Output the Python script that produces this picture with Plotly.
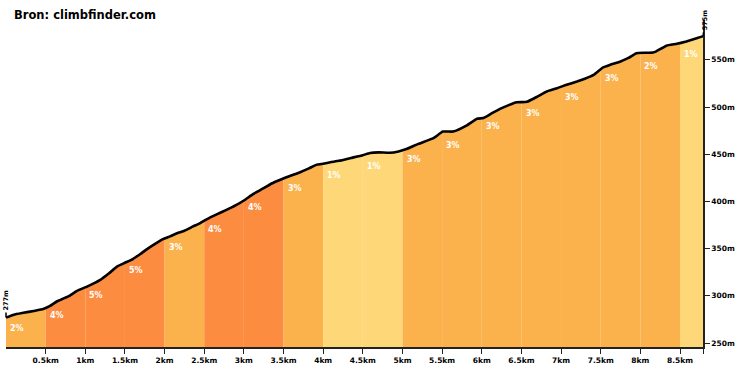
import numpy as np
import plotly.graph_objects as go

# Elevation profile (km, m)
dist_km = [0.00, 0.10, 0.22, 0.35, 0.47, 0.55, 0.64, 0.72, 0.80, 0.89, 1.00, 1.10, 1.19, 1.30,
           1.40, 1.50, 1.60, 1.69, 1.77, 1.88, 1.98, 2.07, 2.15, 2.25, 2.36, 2.45, 2.53, 2.65,
           2.78, 2.90, 3.00, 3.12, 3.25, 3.35, 3.46, 3.58, 3.71, 3.82, 3.92, 4.00, 4.09, 4.20,
           4.35, 4.50, 4.59, 4.70, 4.84, 4.95, 5.05, 5.20, 5.39, 5.51, 5.64, 5.80, 5.94, 6.02,
           6.12, 6.23, 6.34, 6.44, 6.57, 6.70, 6.82, 6.95, 7.07, 7.20, 7.30, 7.41, 7.53, 7.62,
           7.75, 7.85, 7.95, 8.05, 8.16, 8.20, 8.33, 8.46, 8.58, 8.70, 8.79]
elev_m = [277, 280, 282, 284, 286, 289, 294, 297, 300, 305, 309, 313, 317, 324,
          331, 335, 339, 344, 349, 355, 360, 363, 366, 369, 373.5, 377, 381, 386,
          391, 396, 401, 408, 414, 419, 423, 427, 431, 435, 439, 440, 441.5, 443,
          446, 449, 451.3, 452, 451.5, 453, 455.5, 461, 467, 474, 474, 480, 487.6, 488.3,
          493, 498, 502, 505, 505.6, 511, 516.5, 520, 523.6, 527, 530, 534, 542, 544.8,
          548.3, 552, 557, 557.5, 557.8, 559, 565, 567, 569.5, 572.5, 575]

# Segments: start km and gradient label (%)
seg_start = [0.0, 0.5, 1.0, 1.5, 2.0, 2.5, 3.0, 3.5, 4.0, 4.5, 5.0, 5.5, 6.0, 6.5, 7.0, 7.5, 8.0, 8.5]
seg_grade = [2, 4, 5, 5, 3, 4, 4, 3, 1, 1, 3, 3, 3, 3, 3, 3, 2, 1]

x_ticks = [0.5, 1, 1.5, 2, 2.5, 3, 3.5, 4, 4.5, 5, 5.5, 6, 6.5, 7, 7.5, 8, 8.5]
x_ticktext = ["0.5km", "1km", "1.5km", "2km", "2.5km", "3km", "3.5km", "4km", "4.5km",
              "5km", "5.5km", "6km", "6.5km", "7km", "7.5km", "8km", "8.5km"]
y_ticks = [250, 300, 350, 400, 450, 500, 550]

def grade_color(g):
    if g <= 1:
        return "#FED878"
    if g <= 3:
        return "#FBB14C"
    return "#FC8C3F"

d = np.array(dist_km)
e = np.array(elev_m)
total = d[-1]
FONT = "DejaVu Sans"

fig = go.Figure()

seg_end = seg_start[1:] + [total]
for s, t, g in zip(seg_start, seg_end, seg_grade):
    inner = d[(d > s) & (d < t)]
    xs = np.concatenate([[s], inner, [t]])
    ys = np.interp(xs, d, e)
    fig.add_trace(go.Scatter(x=xs, y=ys, mode="lines", line=dict(width=0),
                             fill="tozeroy", fillcolor=grade_color(g),
                             hoverinfo="skip", showlegend=False))

fig.add_trace(go.Scatter(x=d, y=e, mode="lines",
                         line=dict(color="black", width=2.6, shape="spline", smoothing=0.4),
                         hoverinfo="skip", showlegend=False))

for s, g in zip(seg_start, seg_grade):
    lx = s + 0.14
    fig.add_annotation(x=lx, y=float(np.interp(lx, d, e)), text=f"{g}%", showarrow=False,
                       yshift=-14, font=dict(family=FONT, size=8, color="white", weight="bold"))

# Start / end elevation labels
fig.add_annotation(x=0, y=e[0], text=f"{int(e[0])}m", textangle=-90, showarrow=True,
                   arrowhead=0, arrowwidth=1.5, arrowcolor="black", ax=0, ay=-17,
                   font=dict(family=FONT, size=6.5, color="black", weight="bold"))
fig.add_annotation(x=total, y=e[-1], text=f"{int(e[-1])}m", textangle=-90, showarrow=True,
                   arrowhead=0, arrowwidth=1.5, arrowcolor="black", ax=2, ay=-16,
                   font=dict(family=FONT, size=6.5, color="black", weight="bold"))

fig.update_layout(
    width=740, height=370,
    margin=dict(l=6, r=37, t=20, b=23),
    paper_bgcolor="white", plot_bgcolor="white",
    title=dict(text="Bron: climbfinder.com", x=14 / 740, xanchor="left",
               y=1 - 15 / 370, yanchor="middle",
               font=dict(family=FONT, size=11.5, color="black", weight="bold")),
    xaxis=dict(range=[0, total], tickvals=x_ticks + [total], ticktext=x_ticktext + [""],
               ticks="outside", ticklen=5, tickwidth=1.2, tickcolor="#222",
               showline=True, linecolor="#222", linewidth=1.5, showgrid=False, zeroline=False,
               tickfont=dict(family=FONT, size=7.5, color="black", weight="bold")),
    yaxis=dict(range=[245.8, 592.2], side="right", tickvals=y_ticks,
               ticktext=[f"{v}m" for v in y_ticks],
               ticks="outside", ticklen=5, tickwidth=1.2, tickcolor="#222",
               showline=True, linecolor="#222", linewidth=1.5, showgrid=False, zeroline=False,
               tickfont=dict(family=FONT, size=7.5, color="black", weight="bold")),
)

fig.write_html("out.html", config={"displayModeBar": False},
               post_script="document.body.style.margin='0';document.body.style.overflow='hidden';")
